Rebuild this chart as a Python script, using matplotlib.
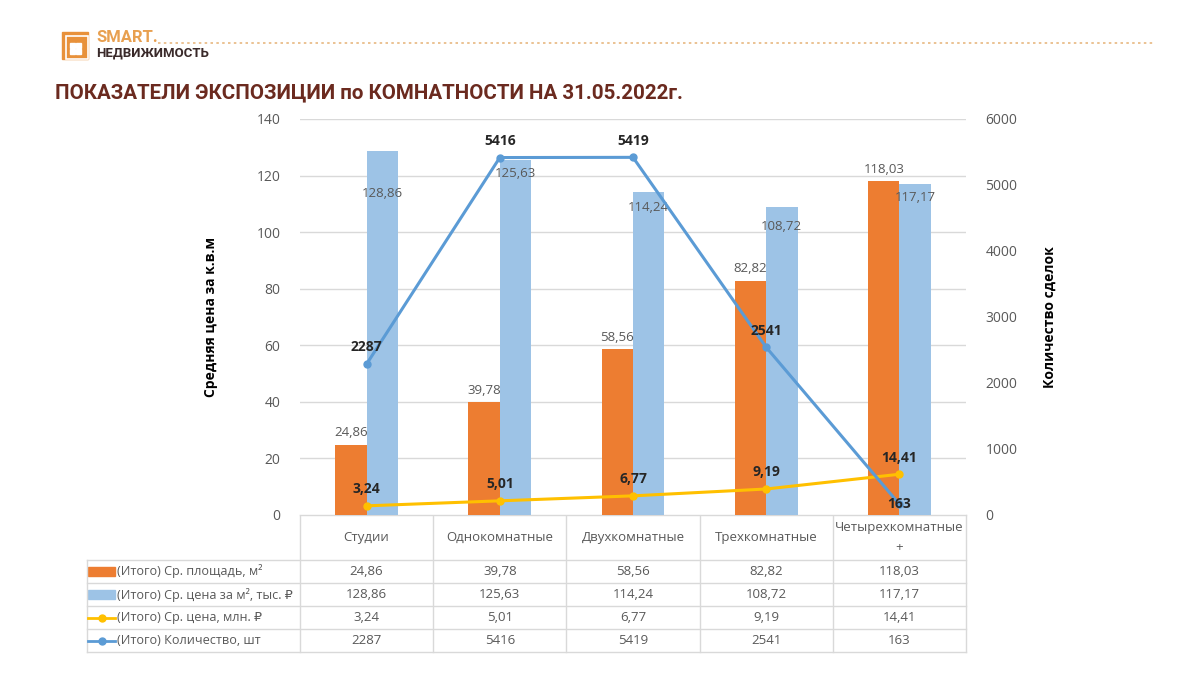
import matplotlib
matplotlib.use("Agg")
import matplotlib.pyplot as plt
from matplotlib.patches import Rectangle

plt.rcParams['font.family'] = ['Open Sans', 'DejaVu Sans']

categories = ["Студии", "Однокомнатные", "Двухкомнатные", "Трехкомнатные", "Четырехкомнатные\n+"]
area = [24.86, 39.78, 58.56, 82.82, 118.03]
price_m2 = [128.86, 125.63, 114.24, 108.72, 117.17]
price_mln = [3.24, 5.01, 6.77, 9.19, 14.41]
count = [2287, 5416, 5419, 2541, 163]

series_names = ["(Итого) Ср. площадь, м²", "(Итого) Ср. цена за м², тыс. ₽",
                "(Итого) Ср. цена, млн. ₽", "(Итого) Количество, шт"]

# manual label nudges (points below bar top) as in the source picture
blue_label_drop = [31, 10, 11, 14, 10]
count_label_rise = [12, 12, 12, 12, 0]

ORANGE = "#ED7D31"
LBLUE = "#9DC3E6"
YELLOW = "#FFC000"
BLUE = "#5B9BD5"
GRAY = "#595959"
DARK = "#262626"

def fmt(v):
    return f"{v:.2f}".replace(".", ",")

W, H = 1200, 674
fig = plt.figure(figsize=(12, 6.74), dpi=100)

# plot area in pixels
px0, px1, py_top, py_bot = 300, 966, 119, 515
ax = fig.add_axes([px0 / W, 1 - py_bot / H, (px1 - px0) / W, (py_bot - py_top) / H])
ax2 = ax.twinx()

x = list(range(len(categories)))
bw = 0.235
ax.bar([i - bw / 2 for i in x], area, width=bw, color=ORANGE, zorder=2)
ax.bar([i + bw / 2 for i in x], price_m2, width=bw, color=LBLUE, zorder=2)
ax.plot(x, price_mln, color=YELLOW, lw=2.2, marker="o", ms=5, zorder=4)
ax2.plot(x, count, color=BLUE, lw=2.2, marker="o", ms=5, zorder=4)

for i in x:
    ax.annotate(fmt(area[i]), (i - bw / 2, area[i]), xytext=(0, 4), textcoords="offset points",
                ha="center", va="bottom", fontsize=9.5, color=GRAY, zorder=5)
    ax.annotate(fmt(price_m2[i]), (i + bw / 2, price_m2[i]), xytext=(0, -blue_label_drop[i]),
                textcoords="offset points", ha="center", va="center", fontsize=9.5, color=GRAY, zorder=5)
    ax.annotate(fmt(price_mln[i]), (i, price_mln[i]), xytext=(0, 12), textcoords="offset points",
                ha="center", va="center", fontsize=10, color=DARK, fontweight="bold", zorder=5)
    ax2.annotate(str(count[i]), (i, count[i]), xytext=(0, count_label_rise[i]), textcoords="offset points",
                 ha="center", va="center", fontsize=10, color=DARK, fontweight="bold", zorder=5)

ax.set_xlim(-0.5, len(categories) - 0.5)
ax.set_ylim(0, 140)
ax.set_yticks(range(0, 141, 20))
ax2.set_ylim(0, 6000)
ax2.set_yticks(range(0, 6001, 1000))
ax.set_xticks([])
ax.grid(axis="y", color="#D9D9D9", lw=1, zorder=0)
ax.set_axisbelow(True)
for a in (ax, ax2):
    for s in a.spines.values():
        s.set_visible(False)
    a.tick_params(length=0, labelsize=10, labelcolor=GRAY)
ax.tick_params(axis="y", pad=14)
ax2.tick_params(axis="y", pad=14)
ax.set_ylabel("Средняя цена за к.в.м", fontsize=10, fontweight="bold", color="black", labelpad=28)
ax2.set_ylabel("Количество сделок", fontsize=10, fontweight="bold", color="black", labelpad=18)

# overlay in pixel coordinates for header and data table
ov = fig.add_axes([0, 0, 1, 1], zorder=-1)
ov.set_xlim(0, W)
ov.set_ylim(H, 0)
ov.axis("off")

# header logo
ov.add_patch(Rectangle((62, 32), 26, 27, color="#E8913A"))
ov.add_patch(Rectangle((66, 36), 22, 23, fill=False, ec="white", lw=1.2))
for dx in (0, 6):
    for dy in (0, 6):
        ov.add_patch(Rectangle((70 + dx, 43 + dy), 4.5, 4.5, color="white"))
ov.text(96, 37, "SMART.", fontsize=12, fontweight="bold", color="#E8A050", va="center",
        family=["Roboto", "DejaVu Sans"])
ov.text(96, 53, "НЕДВИЖИМОСТЬ", fontsize=9.5, fontweight="bold", color="#3A2A2A", va="center",
        family=["Roboto", "DejaVu Sans"])
ov.plot([158, 1155], [43, 43], color="#E8B880", lw=1.2, ls=(0, (1.5, 2)))

ov.text(55, 93, "ПОКАЗАТЕЛИ ЭКСПОЗИЦИИ по КОМНАТНОСТИ НА 31.05.2022г.", fontsize=14.8,
        fontweight="bold", color="#6B2A1F", va="center",
        family=["Roboto", "DejaVu Sans"])

# table
col_w = (px1 - px0) / len(categories)
col_edges = [px0 + k * col_w for k in range(len(categories) + 1)]
row_edges = [515, 560, 583, 606, 629, 652]
lx = 87
lc = "#D9D9D9"
ov.plot([px0, px1], [515, 515], color=lc, lw=1)
for yy in row_edges[1:]:
    ov.plot([lx, px1], [yy, yy], color=lc, lw=1)
ov.plot([lx, lx], [row_edges[1], row_edges[-1]], color=lc, lw=1)
for xx in col_edges:
    ov.plot([xx, xx], [row_edges[0], row_edges[-1]], color=lc, lw=1)

tfs = 9.5
for k, cat in enumerate(categories):
    cx = (col_edges[k] + col_edges[k + 1]) / 2
    ov.text(cx, (row_edges[0] + row_edges[1]) / 2, cat, ha="center", va="center",
            fontsize=tfs, color=GRAY, linespacing=1.6)
rows = [area, price_m2, price_mln, count]
for r, vals in enumerate(rows):
    cy = (row_edges[r + 1] + row_edges[r + 2]) / 2
    for k, v in enumerate(vals):
        cx = (col_edges[k] + col_edges[k + 1]) / 2
        s = str(v) if r == 3 else fmt(v)
        ov.text(cx, cy, s, ha="center", va="center", fontsize=tfs, color=GRAY)
    ov.text(117, cy, series_names[r], ha="left", va="center", fontsize=9.1, color=GRAY)

# legend keys
key_y = [(row_edges[i + 1] + row_edges[i + 2]) / 2 for i in range(4)]
ov.add_patch(Rectangle((88, key_y[0] - 4.5), 27, 9, color=ORANGE))
ov.add_patch(Rectangle((88, key_y[1] - 4.5), 27, 9, color=LBLUE))
ov.plot([88, 115], [key_y[2], key_y[2]], color=YELLOW, lw=2)
ov.plot([101.5], [key_y[2]], "o", color=YELLOW, ms=5)
ov.plot([88, 115], [key_y[3], key_y[3]], color=BLUE, lw=2)
ov.plot([101.5], [key_y[3]], "o", color=BLUE, ms=5)

fig.savefig("out.png", dpi=100, facecolor="white")
